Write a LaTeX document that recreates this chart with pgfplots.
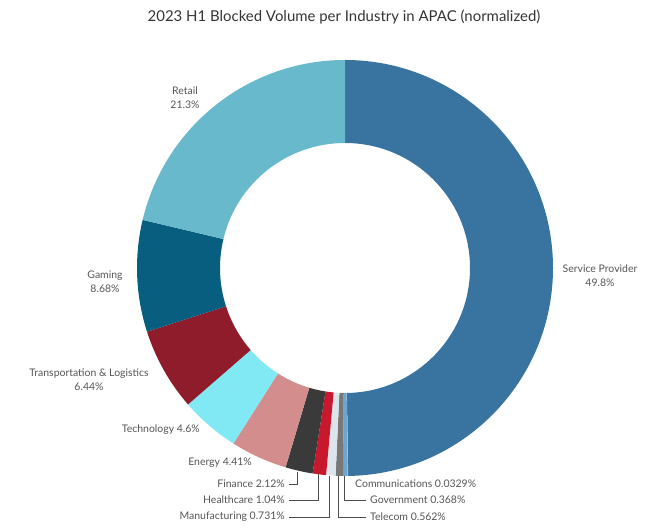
\documentclass[border=0pt]{standalone}
\usepackage{pgfplots}
\pgfplotsset{compat=1.18}
\usepackage{pgfplotstable}
\usepackage{fontspec}
\setmainfont{Lato}

\definecolor{cSP}{HTML}{3974A0}
\definecolor{cComm}{HTML}{9BC3E0}
\definecolor{cGov}{HTML}{6EA5CF}
\definecolor{cTel}{HTML}{787878}
\definecolor{cMan}{HTML}{DCE5EC}
\definecolor{cHea}{HTML}{C8182D}
\definecolor{cFin}{HTML}{3A3A3A}
\definecolor{cEne}{HTML}{D38D8D}
\definecolor{cTec}{HTML}{80E9F3}
\definecolor{cTra}{HTML}{8E1C2B}
\definecolor{cGam}{HTML}{075E7F}
\definecolor{cRet}{HTML}{68B9CC}
\definecolor{txt}{HTML}{555555}
\definecolor{ttl}{HTML}{333333}

% clockwise from 12 o'clock
\pgfplotstableread{
industry value col
ServiceProvider 49.8 cSP
Communications 0.0329 cComm
Government 0.368 cGov
Telecom 0.562 cTel
Manufacturing 0.731 cMan
Healthcare 1.04 cHea
Finance 2.12 cFin
Energy 4.41 cEne
Technology 4.6 cTec
Transportation 6.44 cTra
Gaming 8.68 cGam
Retail 21.3 cRet
}\data

\begin{document}
\begin{tikzpicture}
\begin{axis}[x=1bp, y=1bp, xmin=0, xmax=656, ymin=0, ymax=529,
  hide axis, scale only axis, clip=false]
\path (axis cs:0,0) rectangle (axis cs:656,529);
\def\total{0}
\pgfplotsforeachungrouped \i in {0,...,11}{%
  \pgfplotstablegetelem{\i}{value}\of\data
  \pgfmathsetmacro{\total}{\total+\pgfplotsretval}%
}
\def\cum{0}
\pgfplotsforeachungrouped \i in {0,...,11}{%
  \pgfplotstablegetelem{\i}{value}\of\data \let\val\pgfplotsretval
  \pgfplotstablegetelem{\i}{col}\of\data \let\col\pgfplotsretval
  \pgfmathsetmacro{\a}{90-360*(\cum/\total)}%
  \pgfmathsetmacro{\cumn}{\cum+\val}%
  \pgfmathsetmacro{\b}{90-360*(\cumn/\total)}%
  \edef\temp{\noexpand\fill[\col] ([shift={(\a:208bp)}]axis cs:345,261) arc[start angle=\a, end angle=\b, radius=208bp] -- ([shift={(\b:125bp)}]axis cs:345,261) arc[start angle=\b, end angle=\a, radius=125bp] -- cycle;}%
  \temp
  \global\let\cum\cumn
}

% title
\node[ttl, font=\fontsize{15}{18}\selectfont] at (axis cs:344,512) {2023 H1 Blocked Volume per Industry in APAC (normalized)};

% labels
\begin{scope}[every node/.style={txt, font=\fontsize{10.5}{13}\selectfont, inner sep=0pt}]
\node[align=center] at (axis cs:185,431) {Retail\\[1pt]21.3\%};
\node[align=center] at (axis cs:105,247.5) {Gaming\\[1pt]8.68\%};
\node[align=center] at (axis cs:89,149) {Transportation \& Logistics\\[1pt]6.44\%};
\node[align=center] at (axis cs:600,253) {Service Provider\\[1pt]49.8\%};
\node[anchor=east] at (axis cs:200,99) {Technology 4.6\%};
\node[anchor=east] at (axis cs:252,66) {Energy 4.41\%};
\node[anchor=east] at (axis cs:285,45) {Finance 2.12\%};
\node[anchor=east] at (axis cs:285,29) {Healthcare 1.04\%};
\node[anchor=east] at (axis cs:285,12) {Manufacturing 0.731\%};
\node[anchor=west] at (axis cs:355,45) {Communications 0.0329\%};
\node[anchor=west] at (axis cs:370,29) {Government 0.368\%};
\node[anchor=west] at (axis cs:370,12) {Telecom 0.562\%};
\end{scope}

% leader lines
\begin{scope}[txt!90!black, line width=0.9bp]
\draw (axis cs:289,45) -- (axis cs:297,45) -- (axis cs:297,57);
\draw (axis cs:289,29) -- (axis cs:318,29) -- (axis cs:318,55);
\draw (axis cs:289,12) -- (axis cs:329,12) -- (axis cs:329,53);
\draw (axis cs:366,12) -- (axis cs:338,12) -- (axis cs:338,53);
\draw (axis cs:366,29) -- (axis cs:344,29) -- (axis cs:344,53);
\end{scope}
\end{axis}
\end{tikzpicture}
\end{document}
